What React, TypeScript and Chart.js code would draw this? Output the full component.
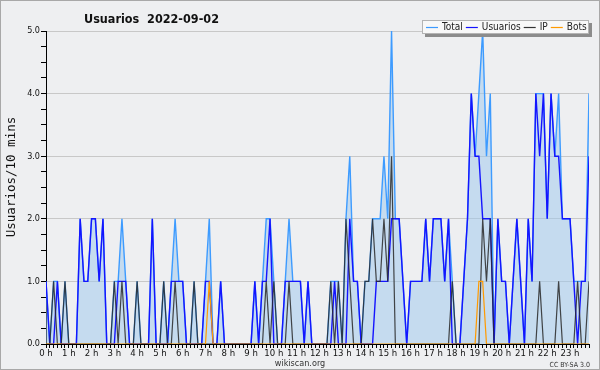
import React, { useEffect, useRef } from 'react';
import { Chart, registerables } from 'chart.js';

Chart.register(...registerables);

// 10-minute slots, 0:00 .. 23:50 (144 slots)
const HOUR_LABELS = ['0 h','1 h','2 h','3 h','4 h','5 h','6 h','7 h','8 h','9 h','10 h','11 h','12 h','13 h','14 h','15 h','16 h','17 h','18 h','19 h','20 h','21 h','22 h','23 h'];

const TOTAL = [
  1,0,1,1,0,1, 0,0,0,2,1,1, 2,2,1,2,0,0, 1,1,2,1,0,0,
  1,0,0,0,2,0, 0,1,0,1,2,1, 1,0,0,1,0,0, 1,2,0,0,1,0,
  0,0,0,0,0,0, 0,1,0,1,2,2, 1,0,0,1,2,1, 1,1,0,1,0,0,
  0,0,0,1,1,1, 0,2,3,1,1,0, 1,1,2,2,2,3, 2,5,2,2,1,0,
  1,1,1,1,2,1, 2,2,2,1,2,1, 0,0,1,2,4,3, 4,5,3,4,0,2,
  1,1,0,1,2,1, 0,2,1,4,4,4, 2,4,3,4,2,2, 2,1,1,1,1,4,
];

const USUARIOS = [
  1,0,0,1,0,0, 0,0,0,2,1,1, 2,2,1,2,0,0, 0,1,1,1,0,0,
  0,0,0,0,2,0, 0,0,0,1,1,1, 1,0,0,0,0,0, 1,1,0,0,1,0,
  0,0,0,0,0,0, 0,1,0,1,1,2, 0,0,0,1,1,1, 1,1,0,1,0,0,
  0,0,0,0,1,0, 0,0,2,1,1,0, 0,0,0,1,1,1, 1,2,2,2,1,0,
  1,1,1,1,2,1, 2,2,2,1,2,0, 0,0,1,2,4,3, 3,2,2,2,0,2,
  1,1,0,1,2,1, 0,2,1,4,3,4, 2,4,3,3,2,2, 2,1,0,1,1,3,
];

const IP = [
  0,0,1,0,0,1, 0,0,0,0,0,0, 0,0,0,0,0,0, 1,0,1,0,0,0,
  1,0,0,0,0,0, 0,1,0,0,1,0, 0,0,0,1,0,0, 0,0,0,0,0,0,
  0,0,0,0,0,0, 0,0,0,0,1,0, 1,0,0,0,1,0, 0,0,0,0,0,0,
  0,0,0,1,0,1, 0,2,1,0,0,0, 1,1,2,1,1,2, 1,3,0,0,0,0,
  0,0,0,0,0,0, 0,0,0,0,0,1, 0,0,0,0,0,0, 0,2,1,2,0,0,
  0,0,0,0,0,0, 0,0,0,0,1,0, 0,0,0,1,0,0, 0,0,1,0,0,1,
];

const BOTS = [
  0,0,0,0,0,0, 0,0,0,0,0,0, 0,0,0,0,0,0, 0,0,0,0,0,0,
  0,0,0,0,0,0, 0,0,0,0,0,0, 0,0,0,0,0,0, 0,1,0,0,0,0,
  0,0,0,0,0,0, 0,0,0,0,0,0, 0,0,0,0,0,0, 0,0,0,0,0,0,
  0,0,0,0,0,0, 0,0,0,0,0,0, 0,0,0,0,0,0, 0,0,0,0,0,0,
  0,0,0,0,0,0, 0,0,0,0,0,0, 0,0,0,0,0,0, 1,1,0,0,0,0,
  0,0,0,0,0,0, 0,0,0,0,0,0, 0,0,0,0,0,0, 0,0,0,0,0,0,
];

const SERIES_NAMES = ['Total', 'Usuarios', 'IP', 'Bots'];
const SERIES_COLORS = ['#3d9bff', '#1414ff', '#333333', '#ff9a00'];
const TITLE = 'Usuarios  2022-09-02';
const Y_TITLE = 'Usuarios/10 mins';
const FOOTER = 'wikiscan.org';
const LICENSE = 'CC BY-SA 3.0';

const FONT = '"DejaVu Sans Condensed", "DejaVu Sans", sans-serif';
const MONO = '"DejaVu Sans Mono", monospace';
const BG = '#eeeff1';

const toXY = (arr: number[]) => arr.map((v, i) => ({ x: i, y: v }));

const decor = {
  id: 'decor',
  beforeDraw(chart: any) {
    const ctx = chart.ctx;
    ctx.save();
    ctx.fillStyle = BG;
    ctx.fillRect(0, 0, chart.width, chart.height);
    ctx.restore();
  },
  afterDraw(chart: any) {
    const ctx = chart.ctx;
    ctx.save();
    // frame
    ctx.strokeStyle = '#a8a8a8';
    ctx.lineWidth = 1;
    ctx.strokeRect(0.5, 0.5, chart.width - 1, chart.height - 1);
    // title
    ctx.fillStyle = '#111';
    ctx.font = `bold 12.5px ${FONT}`;
    ctx.textAlign = 'left';
    ctx.textBaseline = 'alphabetic';
    ctx.fillText(TITLE, 84, 23);
    // y axis title
    ctx.save();
    ctx.translate(12, 177);
    ctx.rotate(-Math.PI / 2);
    ctx.font = `12.5px ${MONO}`;
    ctx.textAlign = 'center';
    ctx.textBaseline = 'middle';
    ctx.fillStyle = '#111';
    ctx.fillText(Y_TITLE, 0, 0);
    ctx.restore();
    // legend box with shadow (laid out from measured text widths)
    ctx.font = `10px ${FONT}`;
    const lineLen = 12, gapLT = 4, gapTL = 3, padL = 4, padR = 2;
    const widths = SERIES_NAMES.map((n) => ctx.measureText(n).width);
    let lw = padL + padR;
    widths.forEach((w, k) => { lw += lineLen + gapLT + w + (k < widths.length - 1 ? gapTL : 0); });
    const right = 589;
    const lx = Math.round(right - lw), ly = 20, lh = 14;
    lw = right - lx;
    ctx.fillStyle = '#8c8c8c';
    ctx.fillRect(lx + 3, ly + 3, lw, lh);
    ctx.fillStyle = '#f8f8f8';
    ctx.fillRect(lx, ly, lw, lh);
    ctx.strokeStyle = '#b4b4b4';
    ctx.strokeRect(lx + 0.5, ly + 0.5, lw - 1, lh - 1);
    ctx.textBaseline = 'middle';
    ctx.textAlign = 'left';
    const cy = ly + lh / 2 + 0.5;
    let cx = lx + padL;
    for (let k = 0; k < SERIES_NAMES.length; k++) {
      ctx.strokeStyle = SERIES_COLORS[k];
      ctx.lineWidth = 1.2;
      ctx.beginPath();
      ctx.moveTo(cx, cy);
      ctx.lineTo(cx + lineLen, cy);
      ctx.stroke();
      ctx.fillStyle = '#222';
      ctx.fillText(SERIES_NAMES[k], cx + lineLen + gapLT, cy);
      cx += lineLen + gapLT + widths[k] + gapTL;
    }
    // footer
    ctx.fillStyle = '#333';
    ctx.textBaseline = 'alphabetic';
    ctx.textAlign = 'center';
    ctx.font = `9px ${FONT}`;
    ctx.fillText(FOOTER, 300, 366);
    ctx.textAlign = 'right';
    ctx.font = `7px ${FONT}`;
    ctx.fillText(LICENSE, 590, 367);
    ctx.restore();
  },
};

export default function App() {
  const ref = useRef<HTMLCanvasElement>(null);
  useEffect(() => {
    document.body.style.margin = '0';
    const canvas = ref.current!;
    const chart = new Chart(canvas, {
      type: 'line',
      data: {
        datasets: [
          {
            label: SERIES_NAMES[0], data: toXY(TOTAL), borderColor: SERIES_COLORS[0],
            backgroundColor: 'rgba(155,200,238,0.5)', fill: 'origin', borderWidth: 1.4,
            pointRadius: 0, tension: 0, order: 4,
          },
          {
            label: SERIES_NAMES[1], data: toXY(USUARIOS), borderColor: SERIES_COLORS[1],
            fill: false, borderWidth: 1.4, pointRadius: 0, tension: 0, order: 3,
          },
          {
            label: SERIES_NAMES[2], data: toXY(IP), borderColor: 'rgba(40,40,40,0.85)',
            fill: false, borderWidth: 1.2, pointRadius: 0, tension: 0, order: 2,
          },
          {
            label: SERIES_NAMES[3], data: toXY(BOTS), borderColor: SERIES_COLORS[3],
            fill: false, borderWidth: 1.2, pointRadius: 0, tension: 0, order: 1,
          },
        ],
      },
      options: {
        responsive: false,
        animation: false,
        devicePixelRatio: 1,
        layout: { padding: { top: 31, right: 11, left: 0, bottom: 0 } },
        plugins: { legend: { display: false }, title: { display: false }, tooltip: { enabled: false } },
        scales: {
          x: {
            type: 'linear', min: 0, max: TOTAL.length - 1,
            afterFit: (s: any) => { s.height = 26; },
            border: { color: '#000', width: 1 },
            grid: { drawOnChartArea: false, tickLength: 4, tickColor: '#000' },
            ticks: {
              stepSize: 1, autoSkip: false, maxRotation: 0, minRotation: 0, padding: 0,
              color: '#111', font: { family: FONT, size: 9.5 },
              callback: (v: any) => (Number(v) % 6 === 0 ? HOUR_LABELS[Number(v) / 6] : ''),
            },
          },
          y: {
            min: 0, max: 5,
            afterFit: (s: any) => { s.width = 46; },
            border: { color: '#000', width: 1 },
            grid: {
              tickLength: 5, tickColor: '#000',
              color: (c: any) => (c.tick && Number.isInteger(c.tick.value) && c.tick.value > 0 ? '#c8c8c8' : 'rgba(0,0,0,0)'),
            },
            ticks: {
              stepSize: 0.25, autoSkip: false, padding: 1,
              color: '#111', font: { family: FONT, size: 9 },
              callback: (v: any) => (Number.isInteger(Number(v)) ? Number(v).toFixed(1) : ''),
            },
            title: { display: false, text: Y_TITLE },
          },
        },
      },
      plugins: [decor],
    } as any);
    return () => chart.destroy();
  }, []);
  return <canvas ref={ref} width={600} height={370} style={{ display: 'block', width: 600, height: 370 }} />;
}
